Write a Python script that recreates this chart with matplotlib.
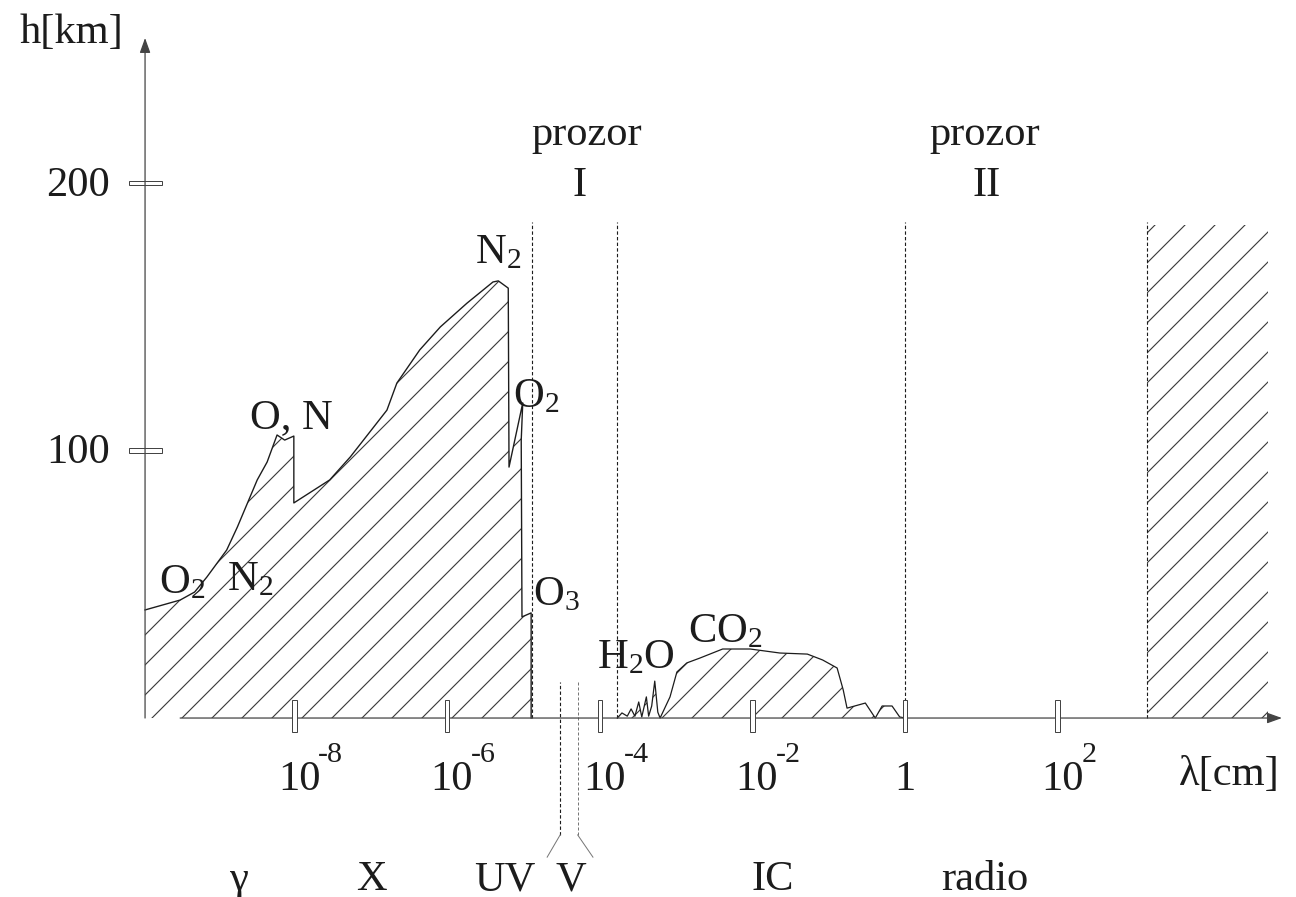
import numpy as np
import matplotlib
matplotlib.use('Agg')
import matplotlib.pyplot as plt
from matplotlib.patches import Rectangle

plt.rcParams['font.family'] = ['Liberation Serif', 'DejaVu Serif']
plt.rcParams['mathtext.fontset'] = 'custom'
plt.rcParams['mathtext.rm'] = 'Liberation Serif'
plt.rcParams['mathtext.it'] = 'Liberation Serif:italic'
plt.rcParams['hatch.linewidth'] = 0.45
plt.rcParams['hatch.color'] = '#3a3a3a'

# x = log10(lambda [cm]), y = h [km]
# gama, X, UV absorpcija (O2, N2, O, N, O3)
uv_lx = [-9.96, -9.50, -9.31, -9.15, -8.89, -8.75, -8.49, -8.36, -8.23, -8.13,
         -8.01, -8.01, -7.54, -7.27, -6.79, -6.66, -6.36, -6.09, -5.74, -5.40,
         -5.33, -5.20, -5.19, -5.01, -5.03, -5.02, -4.90, -4.90]
uv_h = [40.4, 44.1, 47.1, 52.7, 62.8, 71.4, 89.0, 95.7, 105.8, 103.9,
        105.4, 80.4, 89.0, 97.6, 115.1, 125.2, 137.6, 146.2, 155.1, 163.0,
        163.4, 160.7, 93.8, 117.8, 103.9, 37.8, 39.3, 0.0]

# IC absorpcija (H2O, CO2)
ic_lx = [-3.77, -3.71, -3.64, -3.59, -3.54, -3.49, -3.45, -3.39, -3.36, -3.32,
         -3.28, -3.24, -3.21, -3.08, -2.99, -2.86, -2.69, -2.39, -2.03, -1.64,
         -1.28, -1.08, -0.89, -0.81, -0.76, -0.52, -0.39, -0.30, -0.17, -0.07, 0.0]
ic_h = [0.0, 1.9, 0.7, 3.4, 0.7, 6.0, 0.4, 7.9, 0.7, 4.5,
        13.8, 2.2, 0.0, 7.9, 17.2, 20.6, 22.4, 25.8, 25.8, 24.3,
        23.9, 21.7, 18.7, 10.5, 3.7, 5.6, 0.0, 4.5, 4.5, 0.4, 0.0]

# radio - dugi valovi (ionosfera)
radio_lx = [3.17, 4.76]
radio_h = 184.3

window_edges = [-4.89, -3.77, 0.0, 3.17]
window_top = 185.4
visible_edges = [-4.52, -4.29]

tick_lx = [-8, -6, -4, -2, 0, 2]
tick_base = ['10', '10', '10', '10', '1', '10']
tick_exp = ['-8', '-6', '-4', '-2', '', '2']
h_ticks = [100, 200]

bands = ['γ', 'X', 'UV', 'V', 'IC', 'radio']
band_lx = [-8.73, -6.99, -5.24, -4.38, -1.74, 1.04]

molecules = [r'$\mathrm{O_2}$', r'$\mathrm{N_2}$', 'O, N', r'$\mathrm{N_2}$',
             r'$\mathrm{O_2}$', r'$\mathrm{O_3}$', r'$\mathrm{H_2O}$', r'$\mathrm{CO_2}$']
mol_lx = [-9.78, -8.89, -8.58, -5.64, -5.14, -4.88, -4.04, -2.84]
mol_h = [46.7, 47.9, 108.4, 170.1, 116.3, 42.2, 18.7, 28.4]

ink = '#1c1c1c'
axc = '#444444'
hatchc = '#3a3a3a'

fig = plt.figure(figsize=(7.2, 897 / 180), dpi=180)
ax = fig.add_axes([0, 0, 1, 1])
ax.set_xlim(-11.861, 5.124)
ax.set_ylim(-66.9, 268.4)
ax.axis('off')

y0 = -9.96  # polozaj osi h

# osjencana podrucja apsorpcije
ax.fill(uv_lx + [y0], uv_h + [0.0], facecolor='none', edgecolor=hatchc,
        hatch='//', lw=0, zorder=1)
ax.plot(uv_lx, uv_h, color=ink, lw=0.55, zorder=3)
ax.fill(ic_lx, ic_h, facecolor='none', edgecolor=hatchc, hatch='//', lw=0, zorder=1)
ax.plot(ic_lx, ic_h, color=ink, lw=0.5, zorder=3)
ax.add_patch(Rectangle((radio_lx[0], 0), radio_lx[1] - radio_lx[0], radio_h,
                       facecolor='none', edgecolor=hatchc, hatch='//', lw=0, zorder=1))

# granice prozora
ax.vlines(window_edges, 0, window_top, colors=ink, lw=0.45,
          linestyles=(0, (3, 2)), zorder=2)

# vidljivi dio spektra
ax.vlines(visible_edges[0], -43.7, 13.5, colors=ink, lw=0.45, linestyles=(0, (3, 2)))
ax.vlines(visible_edges[1], -43.7, 13.5, colors='#777777', lw=0.4, linestyles=(0, (3, 2)))
ax.plot([visible_edges[0], -4.69], [-43.7, -52.0], color='#777777', lw=0.4)
ax.plot([visible_edges[1], -4.09], [-43.7, -52.0], color='#777777', lw=0.4)

# osi
ax.annotate('', xy=(4.94, 0), xytext=(-9.50, 0),
            arrowprops=dict(arrowstyle='-|>,head_length=0.5,head_width=0.18',
                            color=axc, lw=0.5, shrinkA=0, shrinkB=0), zorder=4)
ax.annotate('', xy=(y0, 254.2), xytext=(y0, 0),
            arrowprops=dict(arrowstyle='-|>,head_length=0.5,head_width=0.18',
                            color=axc, lw=0.5, shrinkA=0, shrinkB=0), zorder=4)

for t, base, ex in zip(tick_lx, tick_base, tick_exp):
    ax.add_patch(Rectangle((t - 0.03, -5.2), 0.06, 11.9, facecolor='white',
                           edgecolor=axc, lw=0.4, zorder=5))
    if ex:
        ax.text(t - 0.22, -26.9, base, ha='left', va='baseline', fontsize=17, color=ink)
        ax.text(t + 0.31, -16.5, ex, ha='left', va='baseline', fontsize=12, color=ink)
    else:
        ax.text(t, -26.9, base, ha='center', va='baseline', fontsize=17, color=ink)

for v in h_ticks:
    ax.add_patch(Rectangle((-10.17, v - 0.75), 0.43, 1.5, facecolor='none',
                           edgecolor=axc, lw=0.4, zorder=5))
    ax.text(-10.42, v - 1, str(v), ha='right', va='center', fontsize=17, color=ink)

ax.text(-10.93, 256.1, 'h[km]', ha='center', va='center', fontsize=17, color=ink)
ax.text(3.59, -21.3, 'λ[cm]', ha='left', va='center', fontsize=17, color=ink)

ax.text(-4.17, 218, 'prozor', ha='center', va='center', fontsize=17, color=ink)
ax.text(-4.26, 199, 'I', ha='center', va='center', fontsize=17, color=ink)
ax.text(1.05, 218, 'prozor', ha='center', va='center', fontsize=17, color=ink)
ax.text(1.07, 199, 'II', ha='center', va='center', fontsize=17, color=ink)

for lab, x, y in zip(molecules, mol_lx, mol_h):
    ax.text(x, y, lab, ha='left', va='baseline', fontsize=17, color=ink, zorder=6)

for lab, x in zip(bands, band_lx):
    ax.text(x, -64.3, lab, ha='center', va='baseline', fontsize=17, color=ink)

fig.savefig('out.png', dpi=180)
